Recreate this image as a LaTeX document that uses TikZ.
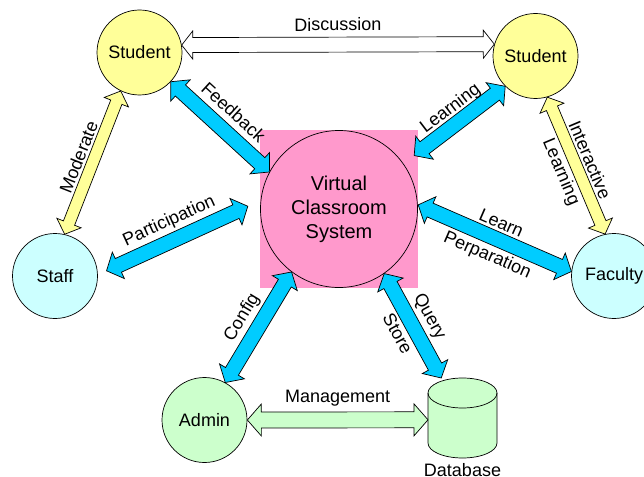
\documentclass[tikz,border=0pt]{standalone}
\usepackage{fontspec}
\setmainfont{Liberation Sans}
\usetikzlibrary{calc,positioning}

\definecolor{sysPink}{HTML}{FF99CC}
\definecolor{stuYellow}{HTML}{FFFF99}
\definecolor{stfCyan}{HTML}{CCFFFF}
\definecolor{admGreen}{HTML}{CCFFCC}
\definecolor{arrBlue}{HTML}{00CCFF}

\tikzset{
  headlen/.store in=\fhl, headwid/.store in=\fhw, shaftwid/.store in=\fsw,
  headlen=13pt, headwid=14.5pt, shaftwid=7.5pt,
  fat/.style={draw=black, line width=0.7pt, line join=miter},
  bluefat/.style={fat, fill=arrBlue},
  yellowfat/.style={fat, fill=stuYellow, headlen=12pt, headwid=13pt, shaftwid=6pt},
  whitefat/.style={fat, fill=white, headlen=11pt, headwid=14pt, shaftwid=7.5pt},
  greenfat/.style={fat, fill=admGreen, headlen=14pt, headwid=16pt, shaftwid=8pt},
  actor/.style={circle, draw, line width=0.7pt, minimum size=85pt, inner sep=0pt,
    font=\fontsize{18}{20}\selectfont},
  sysbox/.style={rectangle, fill=sysPink, minimum size=158pt, inner sep=0pt},
  syscirc/.style={circle, draw, line width=0.7pt, minimum size=157pt, inner sep=0pt,
    align=center, font=\fontsize{20}{24}\selectfont},
  dbbox/.style={rectangle, minimum width=69pt, minimum height=80pt, inner sep=0pt, outer sep=0pt},
  lab/.style={sloped, midway, font=\fontsize{18}{20}\selectfont},
}

\newcommand{\fatlink}[4]{%
  \path[draw, #1] (#2)
    -- ($(#2)!\fhl!(#3)!\fhw!90:(#3)$) -- ($(#2)!\fhl!(#3)!\fsw!90:(#3)$)
    -- ($(#3)!\fhl!(#2)!\fsw!-90:(#2)$) -- ($(#3)!\fhl!(#2)!\fhw!-90:(#2)$)
    -- (#3)
    -- ($(#3)!\fhl!(#2)!\fhw!90:(#2)$) -- ($(#3)!\fhl!(#2)!\fsw!90:(#2)$)
    -- ($(#2)!\fhl!(#3)!\fsw!-90:(#3)$) -- ($(#2)!\fhl!(#3)!\fhw!-90:(#3)$)
    -- cycle;
  \path (#2) -- (#3) #4;}

\begin{document}
\begin{tikzpicture}[x=1pt, y=-1pt]
  \useasboundingbox (0,0) rectangle (644,476);

  \node[sysbox] (sys) at (339,209) {};
  \node[syscirc] (vcs) at (sys) {Virtual\\Classroom\\System};

  \node[actor, fill=stuYellow] (stuL) at (139.5,52.5) {Student};
  \node[actor, fill=stuYellow] (stuR) at (535.5,56) {Student};
  \node[actor, fill=stfCyan] (staff) at (55,276) {Staff};
  \node[actor, fill=stfCyan] (fac) at (614,276) {Faculty};
  \node[actor, fill=admGreen] (admin) at (204.5,420) {Admin};

  \node[dbbox] (db) at (462.5,418) {};
  \filldraw[fill=admGreen, line width=0.7pt]
    ([yshift=-15pt]db.north west) -- ([yshift=15pt]db.south west)
    arc[start angle=180, end angle=360, x radius=34.5pt, y radius=15pt]
    -- ([yshift=-15pt]db.north east)
    arc[start angle=0, end angle=180, x radius=34.5pt, y radius=15pt] -- cycle;
  \draw[line width=0.7pt] ([yshift=-15pt]db.north west)
    arc[start angle=180, end angle=360, x radius=34.5pt, y radius=15pt];
  \node[below=2pt of db, font=\fontsize{18}{20}\selectfont] (dbl) {Database};

  \fatlink{whitefat}{stuL.10}{stuR.164}{node[lab, above=10pt] {Discussion}}
  \fatlink{bluefat}{stuL.-43}{vcs.152}{node[lab, above=10pt] {Feedback}}
  \fatlink{bluefat}{[xshift=-4pt]sys.34}{stuR.-135}{node[lab, above=3pt] {Learning}}
  \fatlink{yellowfat}{stuL.-116}{staff.77}{node[lab, above=5pt] {Moderate}}
  \fatlink{yellowfat}{stuR.-74}{fac.102}{node[lab, above=5pt] {Interactive}
    node[lab, below=5pt] {Learning}}
  \fatlink{bluefat}{[xshift=9pt]staff.7}{[xshift=-12pt]sys.178}{node[lab, above=7pt] {Participation}}
  \fatlink{bluefat}{sys.3}{fac.174}{node[lab, above=7pt] {Learn}
    node[lab, below=7pt] {Perparation}}
  \fatlink{bluefat}{vcs.-127}{admin.61}{node[lab, above=7pt] {Config}}
  \fatlink{bluefat}{vcs.-55}{db.118}{node[lab, above=7pt] {Query}
    node[lab, below=7pt] {Store}}
  \fatlink{greenfat}{admin.east}{db.183}{node[lab, above=10pt] {Management}}
\end{tikzpicture}
\end{document}
